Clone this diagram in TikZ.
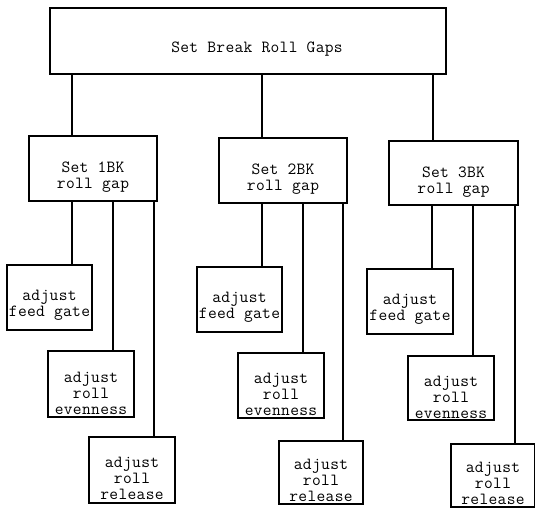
\documentclass[tikz,border=0pt]{standalone}
\usepackage{fontspec}
\newfontfamily\cour{Latin Modern Mono}[LetterSpace=2]
\newcommand{\lbfont}{\cour\fontsize{17pt}{16pt}\selectfont}
\begin{document}
\begin{tikzpicture}[x=1pt,y=-1pt,
  box/.style={draw, line width=2pt, inner sep=0pt, rectangle},
  lbl/.style={align=center, inner sep=0pt, font=\lbfont},
  link/.style={line width=2pt}]
\useasboundingbox (0,0) rectangle (535,507);
% top
\node[box, minimum width=396pt, minimum height=66pt] (top) at (248,41) {};
\node[lbl] (topt) at (257,49) {Set Break Roll Gaps};
% level 2
\node[box, minimum width=128pt, minimum height=65pt] (b1) at (93,168.5) {};
\node[box, minimum width=128pt, minimum height=65pt] (b2) at (283,170.5) {};
\node[box, minimum width=129pt, minimum height=64pt] (b3) at (453.5,173) {};
\node[lbl] (b1t) at ([yshift=-9pt]b1.center) {Set 1BK\\roll gap};
\node[lbl] (b2t) at ([yshift=-9pt]b2.center) {Set 2BK\\roll gap};
\node[lbl] (b3t) at ([yshift=-9pt]b3.center) {Set 3BK\\roll gap};
% feed gate
\node[box, minimum width=85pt, minimum height=65pt] (f1) at (49.5,297.5) {};
\node[box, minimum width=85pt, minimum height=65pt] (f2) at (239.5,299.5) {};
\node[box, minimum width=86pt, minimum height=65pt] (f3) at (410,301.5) {};
% evenness
\node[box, minimum width=86pt, minimum height=66pt] (e1) at (91,384) {};
\node[box, minimum width=86pt, minimum height=65pt] (e2) at (281,385.5) {};
\node[box, minimum width=86pt, minimum height=64pt] (e3) at (451,388) {};
% release
\node[box, minimum width=86pt, minimum height=66pt] (r1) at (132,470) {};
\node[box, minimum width=84pt, minimum height=63pt] (r2) at (321,472.5) {};
\node[box, minimum width=84pt, minimum height=63pt] (r3) at (493,475) {};
\foreach \n in {1,2,3}{
  \node[lbl] (f\n t) at ([yshift=-8pt]f\n.center) {adjust\\feed gate};
  \node[lbl] (e\n t) at ([yshift=-9pt]e\n.center) {adjust\\roll\\evenness};
  \node[lbl] (r\n t) at ([yshift=-8pt]r\n.center) {adjust\\roll\\release};
  \draw[link] ([xshift=-21pt]b\n.north) -- ([xshift=-21pt]b\n.north |- top.south);
  \draw[link] ([xshift=22pt]f\n.north) -- ([xshift=22pt]f\n.north |- b\n.south);
  \draw[link] ([xshift=22pt]e\n.north) -- ([xshift=22pt]e\n.north |- b\n.south);
  \draw[link] ([xshift=22pt]r\n.north) -- ([xshift=22pt]r\n.north |- b\n.south);
}
\end{tikzpicture}
\end{document}
